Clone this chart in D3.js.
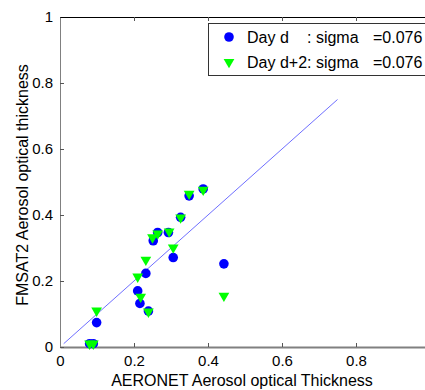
<!DOCTYPE html>
<html>
<head>
<meta charset="utf-8">
<script src="https://cdn.jsdelivr.net/npm/d3@7"></script>
<style>
  body { margin: 0; background: #fff; }
  svg { display: block; font-family: "Liberation Sans", Arial, sans-serif; }
</style>
</head>
<body>
<div id="chart"></div>
<script>
// data
const dayD_x  = [0.080, 0.090, 0.099, 0.210, 0.216, 0.232, 0.239, 0.252, 0.264, 0.293, 0.306, 0.326, 0.349, 0.387, 0.443];
const dayD_y  = [0.010, 0.010, 0.074, 0.170, 0.132, 0.223, 0.109, 0.322, 0.347, 0.347, 0.271, 0.393, 0.458, 0.479, 0.252];
const dayD2_x = [0.080, 0.090, 0.099, 0.210, 0.218, 0.232, 0.239, 0.250, 0.264, 0.295, 0.306, 0.326, 0.349, 0.387, 0.443];
const dayD2_y = [0.010, 0.010, 0.110, 0.213, 0.152, 0.264, 0.107, 0.332, 0.344, 0.350, 0.301, 0.392, 0.464, 0.476, 0.155];
const fitLine = [[0.01, 0.01], [0.75, 0.75]];
const xTicks = [0, 0.2, 0.4, 0.6, 0.8];
const yTicks = [0, 0.2, 0.4, 0.6, 0.8, 1];
const legendRows = [
  { name: "Day d", sep: ": sigma", val: "=0.076", shape: "circle", color: "#0000ff" },
  { name: "Day d+2", sep: ": sigma", val: "=0.076", shape: "triangle", color: "#00ff00" }
];

const width = 425, height = 390;
const margin = { left: 60, top: 17 };
const innerW = 370, innerH = 330;

const x = d3.scaleLinear().domain([0, 1]).range([margin.left, margin.left + innerW]);
const y = d3.scaleLinear().domain([0, 1]).range([margin.top + innerH, margin.top]);

const svg = d3.select("#chart").append("svg")
  .attr("width", width)
  .attr("height", height);

// axes (matlab style, ticks pointing inward)
const fmt = d => d === 0 ? "0" : d === 1 ? "1" : d3.format(".1f")(d);

svg.append("g")
  .attr("transform", `translate(0,${y(0)})`)
  .call(d3.axisBottom(x).tickValues(xTicks).tickSizeInner(-4).tickSizeOuter(0).tickPadding(8).tickFormat(fmt))
  .call(g => g.select(".domain").attr("stroke", "#808080").attr("stroke-width", 2))
  .call(g => g.selectAll(".tick line").attr("stroke", "#555"))
  .call(g => g.selectAll("text").attr("font-size", 15).attr("fill", "#000").attr("font-family", null));

svg.append("g")
  .attr("transform", `translate(${x(0)},0)`)
  .call(d3.axisLeft(y).tickValues(yTicks).tickSizeInner(-4).tickSizeOuter(0).tickPadding(7).tickFormat(fmt))
  .call(g => g.select(".domain").attr("stroke", "#808080"))
  .call(g => g.selectAll(".tick line").attr("stroke", "#555"))
  .call(g => g.selectAll("text").attr("font-size", 15).attr("fill", "#000").attr("font-family", null));

svg.append("g")
  .attr("transform", `translate(0,${y(1)})`)
  .call(d3.axisTop(x).tickValues(xTicks.slice(1)).tickSizeInner(-4).tickSizeOuter(0).tickFormat(""))
  .call(g => g.select(".domain").attr("stroke", "#000"))
  .call(g => g.selectAll(".tick line").attr("stroke", "#555"));

svg.append("g")
  .attr("transform", `translate(${x(1)},0)`)
  .call(d3.axisRight(y).tickValues(yTicks.slice(1, -1)).tickSizeInner(-5).tickSizeOuter(0).tickFormat(""))
  .call(g => g.selectAll(".tick line").attr("stroke", "#777"));

// 1:1 line
svg.append("line")
  .attr("x1", x(fitLine[0][0])).attr("y1", y(fitLine[0][1]))
  .attr("x2", x(fitLine[1][0])).attr("y2", y(fitLine[1][1]))
  .attr("stroke", "#6f6fff")
  .attr("stroke-width", 1);

// day d circles
svg.append("g").selectAll("circle")
  .data(dayD_x.map((v, i) => [v, dayD_y[i]]))
  .join("circle")
  .attr("cx", d => x(d[0]))
  .attr("cy", d => y(d[1]))
  .attr("r", 4.8)
  .attr("fill", "#0000ff");

// day d+2 triangles
const tri = d3.symbol().type(d3.symbolTriangle).size(50);
svg.append("g").selectAll("path")
  .data(dayD2_x.map((v, i) => [v, dayD2_y[i]]))
  .join("path")
  .attr("d", tri)
  .attr("transform", d => `translate(${x(d[0])},${y(d[1])}) rotate(180)`)
  .attr("fill", "#00ff00");

// legend
const legend = svg.append("g");
legend.append("rect")
  .attr("x", 208.5).attr("y", 23.5)
  .attr("width", 230).attr("height", 52)
  .attr("fill", "#fff").attr("stroke", "#333");

const rows = legend.selectAll("g.row")
  .data(legendRows)
  .join("g")
  .attr("class", "row")
  .attr("transform", (d, i) => `translate(0,${37 + i * 25})`);

rows.filter(d => d.shape === "circle").append("circle")
  .attr("cx", 229).attr("cy", 0).attr("r", 4.8).attr("fill", d => d.color);
rows.filter(d => d.shape === "triangle").append("path")
  .attr("d", tri)
  .attr("transform", "translate(229,0) rotate(180)")
  .attr("fill", d => d.color);

const txt = rows.append("g").attr("font-size", 16).attr("fill", "#000");
txt.append("text").attr("x", 247).attr("y", 6).text(d => d.name + (d.name === "Day d" ? "" : d.sep));
txt.filter(d => d.name === "Day d").append("text").attr("x", 307).attr("y", 6).text(d => d.sep);
txt.append("text").attr("x", 373).attr("y", 6).text(d => d.val);

// axis titles
svg.append("text")
  .attr("x", 242).attr("y", 386)
  .attr("text-anchor", "middle")
  .attr("font-size", 16)
  .text("AERONET Aerosol optical Thickness");

svg.append("text")
  .attr("transform", `translate(28,${185}) rotate(-90)`)
  .attr("text-anchor", "middle")
  .attr("font-size", 16)
  .text("FMSAT2 Aerosol optical thickness");
</script>
</body>
</html>
